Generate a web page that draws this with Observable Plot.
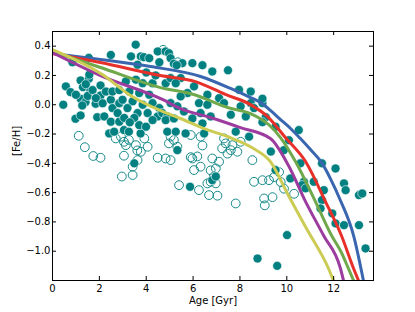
<!DOCTYPE html>
<html>
<head>
<meta charset="utf-8">
<script src="https://cdn.jsdelivr.net/npm/d3@7"></script>
<script src="https://cdn.jsdelivr.net/npm/@observablehq/plot@0.6"></script>
<style>
  html, body { margin: 0; padding: 0; background: white; }
</style>
</head>
<body>
<div id="chart"></div>
<script>
const xTicks = [0, 2, 4, 6, 8, 10, 12];
const yTicks = [0.4, 0.2, 0.0, -0.2, -0.4, -0.6, -0.8, -1.0];

const blueLine = [[0,0.350],[2.05,0.309],[4.18,0.261],[6.32,0.193],[7.60,0.111],[8.45,0.049],[8.88,0.015],[9.30,-0.039],[9.73,-0.101],[10.16,-0.162],[10.58,-0.231],[11.01,-0.306],[11.48,-0.394],[11.86,-0.504],[12.29,-0.654],[12.85,-0.893],[13.27,-1.2]];
const redLine = [[0,0.350],[2.05,0.288],[4.61,0.199],[6.10,0.158],[7.38,0.070],[8.45,0.001],[9.18,-0.081],[9.94,-0.224],[10.80,-0.388],[11.65,-0.661],[12.33,-0.893],[12.85,-1.118],[13.06,-1.2]];
const greenLine = [[0,0.363],[2.05,0.254],[4.61,0.117],[6.02,0.070],[7.47,-0.019],[8.45,-0.060],[9.22,-0.135],[9.73,-0.224],[10.37,-0.388],[11.22,-0.661],[11.91,-0.893],[12.33,-1.009],[12.63,-1.118],[12.85,-1.2]];
const purpleLine = [[0,0.356],[2.05,0.199],[4.69,0.036],[5.46,-0.026],[6.74,-0.087],[8.02,-0.156],[9.30,-0.231],[10.07,-0.415],[10.80,-0.661],[11.57,-0.893],[12.29,-1.118],[12.42,-1.2]];
const yellowLine = [[0,0.377],[2.13,0.206],[3.33,0.063],[4.69,-0.046],[5.46,-0.094],[6.44,-0.162],[7.47,-0.217],[8.58,-0.299],[9.30,-0.388],[10.07,-0.620],[10.84,-0.845],[11.78,-1.118],[11.99,-1.2]];

const filledStars = [
[0.46,0.0],[0.57,0.125],[0.77,0.086],[0.98,-0.096],[1.2,-0.073],[1.2,0.166],[1.3,0.12],[1.2,0.041],[1.41,0.018],[1.55,0.177],[1.62,0.098],[1.5,0.06],[1.27,-0.005],[1.84,0.007],[1.91,-0.085],[2.05,0.132],[2.05,0.063],[1.0,0.068],[1.71,0.1],[1.85,0.045],[1.57,0.205],[1.42,0.14],[0.85,0.29],[1.55,0.32],[2.49,0.34],
[2.14,0.01],[2.21,-0.08],[2.49,0.034],[2.56,-0.023],[2.85,0.01],[2.78,-0.057],[2.28,0.09],[2.56,0.09],[2.85,0.1],[2.49,-0.116],[2.42,-0.196],[2.63,-0.184],[2.85,-0.116],[2.99,0.034],
[3.05,-0.173],[3.26,-0.184],[3.76,-0.196],[3.7,-0.139],[3.99,-0.15],[3.49,-0.4],[3.55,0.41],[3.35,0.33],[3.77,0.33],[3.63,0.273],[3.9,0.325],[3.13,0.159],[3.56,0.171],[3.85,0.147],[3.28,0.09],[3.7,0.08],[3.42,0.023],[3.85,0.0],[3.2,-0.023],[3.63,-0.057],[3.06,-0.09],[3.49,-0.09],[3.3,-0.12],
[4.13,0.318],[4.49,0.364],[4.56,0.29],[4.83,0.364],[4.97,0.352],[4.27,0.147],[4.13,0.068],[4.27,0.011],[4.56,-0.023],[4.06,-0.057],[4.49,-0.08],[4.27,-0.105],[4.83,0.147],[4.69,-0.057],[4.9,-0.08],[4.83,-0.105],[4.9,-0.184],[4.4,0.2],[4.0,0.22],
[5.04,0.318],[5.18,0.28],[5.54,0.284],[5.3,0.27],[5.04,0.182],[5.47,0.182],[5.26,0.147],[5.04,0.011],[5.33,-0.011],[5.61,-0.046],[5.76,0.08],[5.47,0.057],[5.18,-0.094],[5.26,-0.184],[5.68,-0.196],[5.33,-0.31],[5.97,-0.094],[5.87,-0.56],[5.97,0.284],
[6.4,0.27],[6.82,0.227],[6.04,0.125],[6.61,0.068],[6.25,0.011],[6.61,0.0],[6.32,-0.057],[6.75,-0.08],[6.4,-0.128],[6.47,-0.196],[6.82,-0.515],[6.97,-0.49],
[7.49,0.235],[7.11,0.045],[7.32,0.011],[7.61,-0.068],[7.82,-0.184],[7.96,0.102],
[8.46,0.09],[8.03,-0.011],[8.46,0.011],[8.6,-0.023],[8.96,0.011],[8.25,-0.08],[8.39,-0.218],[8.96,0.041],[8.75,-1.05],[9.1,-0.085],[8.96,-0.119],
[9.32,-0.32],[9.52,-0.15],[9.87,-0.31],[10.09,-0.242],[9.52,-0.446],[10.01,-0.89],[9.59,-1.1],
[10.51,-0.173],[10.58,-0.4],[10.15,-0.503],[10.73,-0.526],[10.65,-0.549],[10.8,-0.571],
[11.15,-0.526],[11.5,-0.4],[11.58,-0.583],[11.5,-0.651],[11.44,-0.708],[11.94,-0.742],
[12.08,-0.435],[12.44,-0.537],[12.51,-0.583],[13.08,-0.617],[13.22,-0.606],[12.08,-0.81],[12.44,-0.822],[13.08,-0.822],[13.36,-0.981]
];

const openStars = [
[1.12,-0.212],[1.38,-0.29],[1.74,-0.35],[2.05,-0.362],[2.7,-0.23],[3.05,-0.253],[3.13,-0.276],[3.05,-0.348],[3.56,-0.276],[3.77,-0.321],[3.92,-0.23],[4.06,-0.287],[3.63,-0.378],[3.42,-0.423],[3.42,-0.48],[2.96,-0.49],[4.49,-0.362],[2.92,-0.218],[3.26,-0.24],
[5.04,-0.218],[5.18,-0.241],[4.97,-0.264],[5.33,-0.287],[5.9,-0.207],[6.32,-0.218],[4.83,-0.367],[5.04,-0.378],[5.97,-0.367],[6.32,-0.423],[6.04,-0.446],[6.82,-0.367],[7.11,-0.389],[6.97,-0.435],[6.89,-0.49],[6.75,-0.526],[6.97,-0.537],[6.61,-0.537],[5.4,-0.549],[6.25,-0.583],[6.68,-0.617],[7.04,-0.621],
[7.32,-0.23],[7.39,-0.264],[7.68,-0.276],[7.61,-0.31],[7.24,-0.298],[7.89,-0.321],[8.03,-0.253],[8.53,-0.378],[8.6,-0.526],[8.96,-0.515],[9.24,-0.515],[9.03,-0.64],[7.82,-0.674],
[6.18,-0.353],[6.75,-0.448],[7.47,-0.334],[3.62,-0.312],[6.4,-0.278],[5.9,-0.358],
[9.46,-0.494],[9.67,-0.46],[9.88,-0.573],[9.06,-0.687],[9.39,-0.631],[10.31,-0.608],[9.74,-0.528],
[4.72,0.375],[5.35,0.29]
];

const teal = "#008080";
const lineSeries = [
  {data: blueLine, color: "#3a66b0"},
  {data: redLine, color: "#e8302a"},
  {data: greenLine, color: "#70a84c"},
  {data: purpleLine, color: "#9c3c9f"},
  {data: yellowLine, color: "#cccc55"}
];

const chart = Plot.plot({
  width: 415,
  height: 312,
  marginLeft: 52,
  marginRight: 42,
  marginTop: 31,
  marginBottom: 32,
  x: {domain: [0, 13.7], label: null},
  y: {domain: [-1.2, 0.5], label: null},
  style: {fontFamily: "DejaVu Sans", fontSize: "10px", background: "white", color: "black"},
  marks: [
    Plot.dot(openStars, {x: d => d[0], y: d => d[1], r: 4.4, fill: "none", stroke: "#178a8a", strokeWidth: 1}),
    Plot.dot(filledStars, {x: d => d[0], y: d => d[1], r: 4.5, fill: teal, stroke: "white", strokeWidth: 0.6}),
    ...lineSeries.map(s => Plot.line(s.data, {x: d => d[0], y: d => d[1], stroke: s.color, strokeWidth: 3, curve: "monotone-x", clip: true})),
    Plot.frame({stroke: "black", strokeWidth: 1}),
    Plot.tickX(xTicks, {x: d => d, insetTop: 245, stroke: "black"}),
    Plot.tickX(xTicks, {x: d => d, insetBottom: 245, stroke: "black"}),
    Plot.tickY(yTicks, {y: d => d, insetRight: 317, stroke: "black"}),
    Plot.tickY(yTicks, {y: d => d, insetLeft: 317, stroke: "black"}),
    Plot.axisX(xTicks, {tickSize: 0, tickPadding: 4, tickFormat: d => String(d), label: null, fontSize: 10}),
    Plot.axisY(yTicks, {tickSize: 0, tickPadding: 2, tickFormat: d3.format(".1f"), label: null, fontSize: 10}),
    Plot.text(["Age [Gyr]"], {text: d => d, frameAnchor: "bottom", dy: 23, fontSize: 10}),
    Plot.text(["[Fe/H]"], {text: d => d, frameAnchor: "left", dx: -36, rotate: -90, fontSize: 10})
  ]
});
document.getElementById("chart").appendChild(chart);
</script>
</body>
</html>
